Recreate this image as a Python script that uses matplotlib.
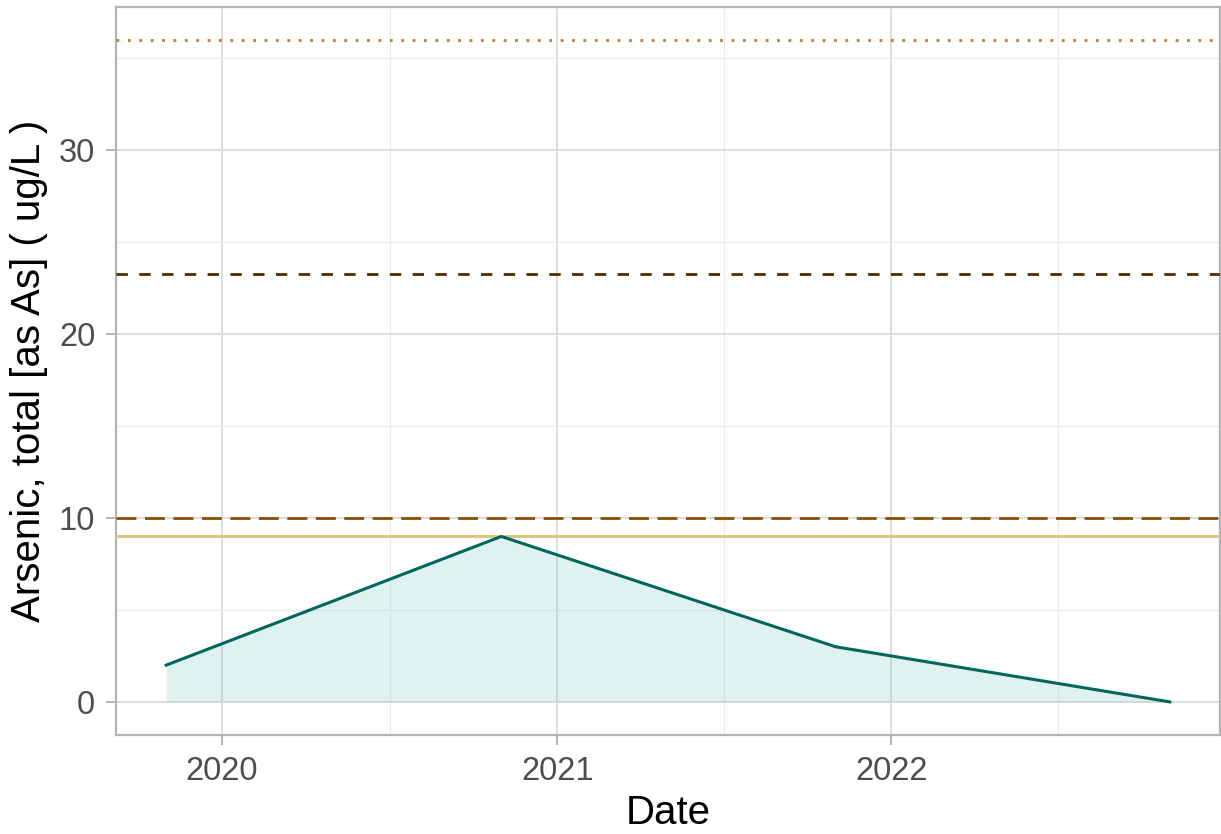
import numpy as np
import pandas as pd
import matplotlib
matplotlib.use('Agg')
import matplotlib.pyplot as plt
import matplotlib.dates as mdates

# sample results
dates = pd.to_datetime(['2019-11-01', '2020-11-01', '2021-11-01', '2022-11-01'])
arsenic = [2.0, 9.0, 3.0, 0.0]

# guideline levels (ug/L)
ref_levels = [36.0, 23.3, 10.0, 9.0]
ref_colors = ['#bf812d', '#543005', '#8c510a', '#dfc27d']
ref_styles = [(0, (1, 3)), (0, (4, 4)), (0, (7, 3)), '-']

plt.rcParams['font.family'] = ['Liberation Sans', 'DejaVu Sans']

fig = plt.figure(figsize=(12.21, 8.34), dpi=100)
ax = fig.add_axes([116 / 1221, 1 - 735 / 834, (1220 - 116) / 1221, (735 - 7) / 834])

ax.fill_between(dates, 0, arsenic, color='#80cdc1', alpha=0.25, lw=0, zorder=2)
ax.plot(dates, arsenic, color='#01665e', lw=2.2, zorder=4)

for lev, col, ls in zip(ref_levels, ref_colors, ref_styles):
    ax.axhline(lev, color=col, ls=ls, lw=2.05, dash_capstyle='butt', zorder=3)

ax.set_yticks([0, 10, 20, 30])
ax.set_yticks([5, 15, 25, 35], minor=True)
ax.xaxis.set_major_locator(mdates.YearLocator())
ax.xaxis.set_major_formatter(mdates.DateFormatter('%Y'))
ax.set_xticks(pd.to_datetime(['2020-07-02', '2021-07-02', '2022-07-02']), minor=True)

# ggplot-like 5% expansion
span = dates[-1] - dates[0]
ax.set_xlim(dates[0] - span * 0.05, dates[-1] + span * 0.05)
ymax = max(max(arsenic), max(ref_levels))
ax.set_ylim(-ymax * 0.05, ymax * 1.05)

ax.grid(which='major', color='#dedede', lw=1.4, zorder=0)
ax.grid(which='minor', color='#ebebeb', lw=0.8, zorder=0)
ax.set_axisbelow(True)

for s in ax.spines.values():
    s.set_color('#b3b3b3')
    s.set_linewidth(1.6)

ax.tick_params(which='major', length=7, width=1.4, color='#b3b3b3',
               labelsize=23.5, labelcolor='#4d4d4d')
ax.tick_params(axis='x', which='major', pad=8)
ax.tick_params(axis='y', which='major', pad=8)
ax.tick_params(which='minor', length=0)

ax.set_xlabel('Date', fontsize=29, color='black', labelpad=5)
ax.set_ylabel('Arsenic, total [as As] ( ug/L )', fontsize=29, color='black', labelpad=8)

fig.savefig('out.png', dpi=100)
